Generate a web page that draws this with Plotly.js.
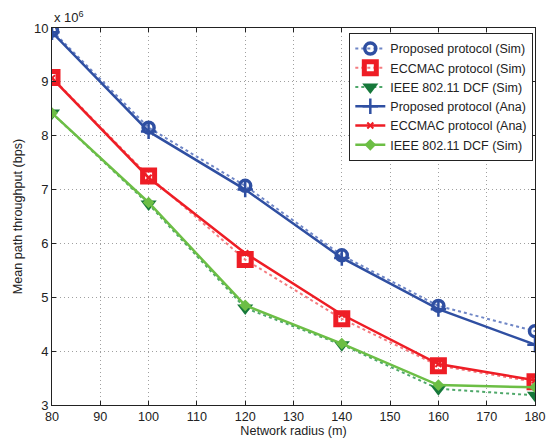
<!DOCTYPE html>
<html><head><meta charset="utf-8">
<script src="https://cdn.plot.ly/plotly-3.0.1.min.js"></script>
<style>html,body{margin:0;padding:0;background:#fff}#c{width:552px;height:439px}</style>
</head><body><div id="c"></div>
<script>
const radius = [80, 100, 120, 140, 160, 180];
const propSim = [9.95, 8.15, 7.07, 5.78, 4.84, 4.37];
const eccSim = [9.08, 7.25, 5.70, 4.60, 3.73, 3.43];
const ieeeSim = [8.42, 6.73, 4.80, 4.12, 3.30, 3.18];
const propAna = [9.92, 8.08, 7.00, 5.73, 4.78, 4.12];
const eccAna = [9.07, 7.22, 5.82, 4.68, 3.76, 3.46];
const ieeeAna = [8.42, 6.76, 4.85, 4.14, 3.37, 3.33];
const names = ['Proposed protocol (Sim)','ECCMAC protocol (Sim)','IEEE 802.11 DCF (Sim)',
  'Proposed protocol (Ana)','ECCMAC protocol (Ana)','IEEE 802.11 DCF (Sim)'];
const xTicks = [80,90,100,110,120,130,140,150,160,170,180];
const yTicks = [3,4,5,6,7,8,9,10];

const blue='#2F4FA2', red='#EE1D25', green='#6CBE45', dgreen='#16783A';
const traces = [
 {x:radius,y:propSim,name:names[0],mode:'lines+markers',line:{color:'#6F86C6',width:2,dash:'dot'},
  marker:{symbol:'circle-open',size:11,color:blue,line:{width:3.5,color:blue}}},
 {x:radius,y:eccSim,name:names[1],mode:'lines+markers',line:{color:'#F47C80',width:2,dash:'dot'},
  marker:{symbol:'square-open',size:12,color:red,line:{width:5,color:red}}},
 {x:radius,y:ieeeSim,name:names[2],mode:'lines+markers',line:{color:'#4FA86A',width:2,dash:'dot'},
  marker:{symbol:'triangle-down',size:14,color:dgreen}},
 {x:radius,y:propAna,name:names[3],mode:'lines+markers',line:{color:blue,width:2.5},
  marker:{symbol:'cross-thin',size:11,color:blue,line:{width:2.5,color:blue}}},
 {x:radius,y:eccAna,name:names[4],mode:'lines+markers',line:{color:red,width:2.5},
  marker:{symbol:'x-thin',size:6,color:red,line:{width:2,color:red}}},
 {x:radius,y:ieeeAna,name:names[5],mode:'lines+markers',line:{color:green,width:2.5},
  marker:{symbol:'diamond',size:9,color:green}}
];
const layout = {
 width:552,height:439,margin:{l:52,r:17,t:28,b:34,autoexpand:false},
 paper_bgcolor:'#fff',plot_bgcolor:'#fff',
 font:{family:'Liberation Sans, Arial, sans-serif',size:13,color:'#222'},
 showlegend:true,
 legend:{x:0.9965,y:0.987,xanchor:'right',yanchor:'top',bgcolor:'#fff',bordercolor:'#222',borderwidth:1,
   font:{size:12.5},tracegroupgap:0,itemwidth:30},
 xaxis:{range:[80,180],tickvals:xTicks,ticks:'inside',ticklen:4,tickcolor:'#222',showline:true,mirror:'ticks',
   linecolor:'#222',linewidth:1,showgrid:true,gridcolor:'#a0a0a0',griddash:'1px,3px',gridwidth:1,zeroline:false,
   automargin:false,
   title:{text:'Network radius (m)',font:{size:12.6},standoff:2},tickfont:{size:12.6}},
 yaxis:{range:[3,10],tickvals:yTicks,ticks:'inside',ticklen:4,tickcolor:'#222',showline:true,mirror:'ticks',
   linecolor:'#222',linewidth:1,showgrid:true,gridcolor:'#a0a0a0',griddash:'1px,3px',gridwidth:1,zeroline:false,
   automargin:false,
   title:{text:'Mean path throughput (bps)',font:{size:12.6},standoff:8},tickfont:{size:13}},
 annotations:[{xref:'paper',yref:'paper',x:0,y:1,xanchor:'left',yanchor:'bottom',showarrow:false,
   text:'x 10<sup>6</sup>',font:{size:13},yshift:1}]
};
Plotly.newPlot('c',traces,layout,{staticPlot:true});
</script></body></html>
